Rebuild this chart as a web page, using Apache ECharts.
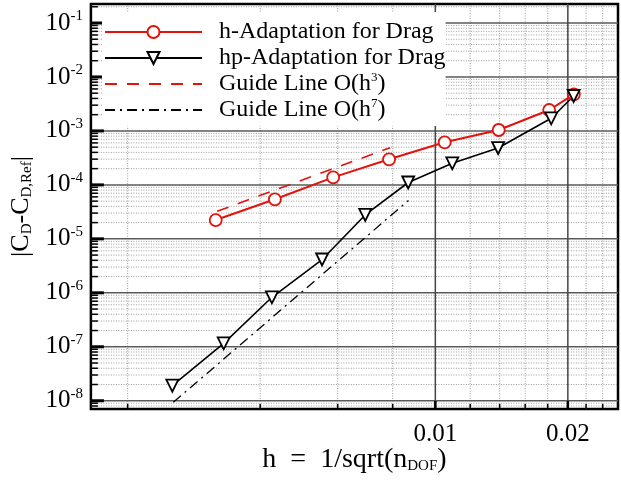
<!DOCTYPE html>
<html>
<head>
<meta charset="utf-8">
<script src="https://cdn.jsdelivr.net/npm/echarts@6.0.0/dist/echarts.min.js"></script>
<style>
html, body { margin: 0; padding: 0; background: #fff; }
#main { width: 621px; height: 481px; }
</style>
</head>
<body>
<div id="main"></div>
<script>
// values
var hX = [0.00317, 0.00432, 0.00586, 0.00785, 0.0105, 0.01393, 0.01814, 0.02064];
var hY = [2.23e-5, 5.41e-5, 1.38e-4, 2.98e-4, 6.15e-4, 1.04e-3, 2.44e-3, 4.77e-3];
var hpX = [0.002526, 0.003305, 0.004253, 0.00553, 0.006929, 0.008677, 0.010926, 0.013886, 0.018335, 0.020616];
var hpY = [1.9e-8, 1.16e-7, 8.26e-7, 4.14e-6, 2.77e-5, 1.107e-4, 2.51e-4, 4.82e-4, 1.714e-3, 4.44e-3];
var guide3X = [0.003193, 0.007892];
var guide3Y = [3.24e-5, 4.89e-4];
var guide7X = [0.002539, 0.008688];
var guide7Y = [9.35e-9, 5.14e-5];

var seriesNames = ['h-Adaptation for Drag', 'hp-Adaptation for Drag', 'Guide Line O(h3)', 'Guide Line O(h7)'];

// axes
var xRange = [0.00165, 0.026];
var yRange = [7.03e-9, 0.2249];
var xMajor = [0.01, 0.02];
var xTickLabels = ['0.01', '0.02'];
var xMinor = [0.002, 0.004, 0.006, 0.008, 0.012, 0.014, 0.016, 0.018, 0.022, 0.024];
var yMajor = [1e-8, 1e-7, 1e-6, 1e-5, 1e-4, 1e-3, 1e-2, 1e-1];
var yMinor = [];
[1e-9].concat(yMajor).forEach(function (d) {
    for (var m = 2; m <= 9; m++) {
        var v = Number((m * d).toPrecision(3));
        if (v > yRange[0] && v < yRange[1]) yMinor.push(v);
    }
});

var RED = '#e3120b';
var FONT = "'Liberation Serif', serif";

function zip(xs, ys) {
    return xs.map(function (x, i) { return [x, ys[i]]; });
}

// grid lines: [value, kind]  0 horiz minor, 1 vert minor, 2 horiz major, 3 vert major
var gridData = [];
yMinor.forEach(function (v) { gridData.push([v, 0]); });
xMinor.forEach(function (v) { gridData.push([v, 1]); });
yMajor.forEach(function (v) { gridData.push([v, 2]); });
xMajor.forEach(function (v) { gridData.push([v, 3]); });
var gridStyle = [
    { stroke: '#9c9c9c', lineWidth: 1, lineDash: [1, 1.5] },
    { stroke: '#9c9c9c', lineWidth: 1, lineDash: [1, 1.5] },
    { stroke: '#5a5a5a', lineWidth: 1.5 },
    { stroke: '#444', lineWidth: 1.5 }
];

// tick marks / x labels: [value, kind, labelIndex]
// kind 0 y-major, 1 y-minor, 2 x-major (with label), 3 x-minor
var tickData = [];
yMajor.forEach(function (v) { tickData.push([v, 0, -1]); });
yMinor.forEach(function (v) { tickData.push([v, 1, -1]); });
xMajor.forEach(function (v, i) { tickData.push([v, 2, i]); });
xMinor.forEach(function (v) { tickData.push([v, 3, -1]); });
var tickLen = [13, 7, 8, 5];
var tickWidth = [3, 1.5, 2.5, 1.5];

var myChart = echarts.init(document.getElementById('main'));

var noMarker = { color: 'rgba(0,0,0,0)', borderWidth: 0, opacity: 0 };

var option = {
    animation: false,
    backgroundColor: '#fff',
    grid: {
        left: 89,
        right: 3,
        top: 4,
        bottom: 72,
        show: true,
        borderColor: '#000',
        borderWidth: 2.5,
        backgroundColor: 'transparent'
    },
    legend: {
        orient: 'vertical',
        left: 102,
        top: 12,
        z: 6,
        padding: [7, 0, 3, 2],
        backgroundColor: '#fff',
        itemWidth: 97,
        itemHeight: 15,
        itemGap: 0,
        selectedMode: false,
        data: [
            { name: seriesNames[0] },
            { name: seriesNames[1] },
            { name: seriesNames[2], itemStyle: noMarker },
            { name: seriesNames[3], itemStyle: noMarker }
        ],
        formatter: function (name) {
            return name.replace(/\(h(\d)\)/, '(h{sup|$1})');
        },
        textStyle: {
            fontFamily: FONT,
            fontSize: 24,
            color: '#000',
            lineHeight: 26,
            padding: [0, 0, 0, 12],
            rich: {
                sup: { fontFamily: FONT, fontSize: 13, color: '#000', padding: [0, 0, 12, 0] }
            }
        }
    },
    xAxis: {
        type: 'log',
        min: xRange[0],
        max: xRange[1],
        name: 'h  =  1/sqrt(n{sub|DOF})',
        nameLocation: 'middle',
        nameGap: 37,
        nameTextStyle: {
            fontFamily: FONT,
            fontSize: 28,
            color: '#000',
            rich: {
                sub: { fontFamily: FONT, fontSize: 15, color: '#000', padding: [12, 0, 0, 0] }
            }
        },
        axisLine: { show: false },
        axisTick: { show: false },
        splitLine: { show: false },
        axisLabel: { show: false }
    },
    yAxis: {
        type: 'log',
        min: yRange[0],
        max: yRange[1],
        name: '|C{sub|D}-C{sub|D,Ref}|',
        nameLocation: 'middle',
        nameRotate: 90,
        nameGap: 53,
        nameTextStyle: {
            fontFamily: FONT,
            fontSize: 26,
            color: '#000',
            rich: {
                sub: { fontFamily: FONT, fontSize: 15, color: '#000', padding: [12, 0, 0, 0] }
            }
        },
        axisLine: { show: false },
        axisTick: { show: false },
        splitLine: { show: false },
        axisLabel: {
            margin: 8,
            showMinLabel: false,
            showMaxLabel: false,
            formatter: function (v) {
                var e = Math.round(Math.log10(v));
                return '{b|10}{s|' + e + '}';
            },
            rich: {
                b: { fontFamily: FONT, fontSize: 25, color: '#000' },
                s: { fontFamily: FONT, fontSize: 15, color: '#000', padding: [0, 0, 14, 0] }
            }
        }
    },
    series: [
        {
            name: 'grid',
            type: 'custom',
            silent: true,
            z: 1,
            encode: { x: -1, y: -1 },
            data: gridData,
            renderItem: function (params, api) {
                var v = api.value(0);
                var kind = api.value(1);
                var a, b;
                if (kind === 0 || kind === 2) {
                    a = api.coord([xRange[0], v]);
                    b = api.coord([xRange[1], v]);
                } else {
                    a = api.coord([v, yRange[0]]);
                    b = api.coord([v, yRange[1]]);
                }
                return {
                    type: 'line',
                    shape: { x1: a[0], y1: a[1], x2: b[0], y2: b[1] },
                    style: gridStyle[kind]
                };
            }
        },
        {
            name: 'ticks',
            type: 'custom',
            silent: true,
            z: 5,
            encode: { x: -1, y: -1 },
            data: tickData,
            renderItem: function (params, api) {
                var v = api.value(0);
                var kind = api.value(1);
                var len = tickLen[kind];
                var style = { stroke: '#000', lineWidth: tickWidth[kind] };
                if (kind < 2) {
                    var p = api.coord([xRange[0], v]);
                    return {
                        type: 'line',
                        shape: { x1: p[0], y1: p[1], x2: p[0] + len, y2: p[1] },
                        style: style
                    };
                }
                var q = api.coord([v, yRange[0]]);
                var children = [{
                    type: 'line',
                    shape: { x1: q[0], y1: q[1], x2: q[0], y2: q[1] - len },
                    style: style
                }];
                var li = api.value(2);
                if (li >= 0) {
                    children.push({
                        type: 'text',
                        x: q[0],
                        y: q[1] + 25,
                        style: {
                            text: xTickLabels[li],
                            fontFamily: FONT,
                            fontSize: 25,
                            fill: '#000',
                            align: 'center',
                            verticalAlign: 'middle',
                            textAlign: 'center',
                            textVerticalAlign: 'middle'
                        }
                    });
                }
                return { type: 'group', children: children };
            }
        },
        {
            name: seriesNames[0],
            type: 'line',
            z: 3,
            data: zip(hX, hY),
            symbol: 'circle',
            symbolSize: 12,
            lineStyle: { color: RED, width: 2 },
            itemStyle: { color: '#fff', borderColor: RED, borderWidth: 1.8 }
        },
        {
            name: seriesNames[1],
            type: 'line',
            z: 3,
            data: zip(hpX, hpY),
            symbol: 'triangle',
            symbolRotate: 180,
            symbolSize: 12,
            lineStyle: { color: '#000', width: 1.6 },
            itemStyle: { color: '#fff', borderColor: '#000', borderWidth: 1.8 }
        },
        {
            name: seriesNames[2],
            type: 'line',
            z: 3,
            data: zip(guide3X, guide3Y),
            symbol: 'none',
            lineStyle: { color: RED, width: 1.6, type: [12, 10] },
            itemStyle: noMarker
        },
        {
            name: seriesNames[3],
            type: 'line',
            z: 3,
            data: zip(guide7X, guide7Y),
            symbol: 'none',
            lineStyle: { color: '#000', width: 1.3, type: [10, 5, 2, 5] },
            itemStyle: noMarker
        }
    ]
};

option && myChart.setOption(option);
</script>
</body>
</html>
